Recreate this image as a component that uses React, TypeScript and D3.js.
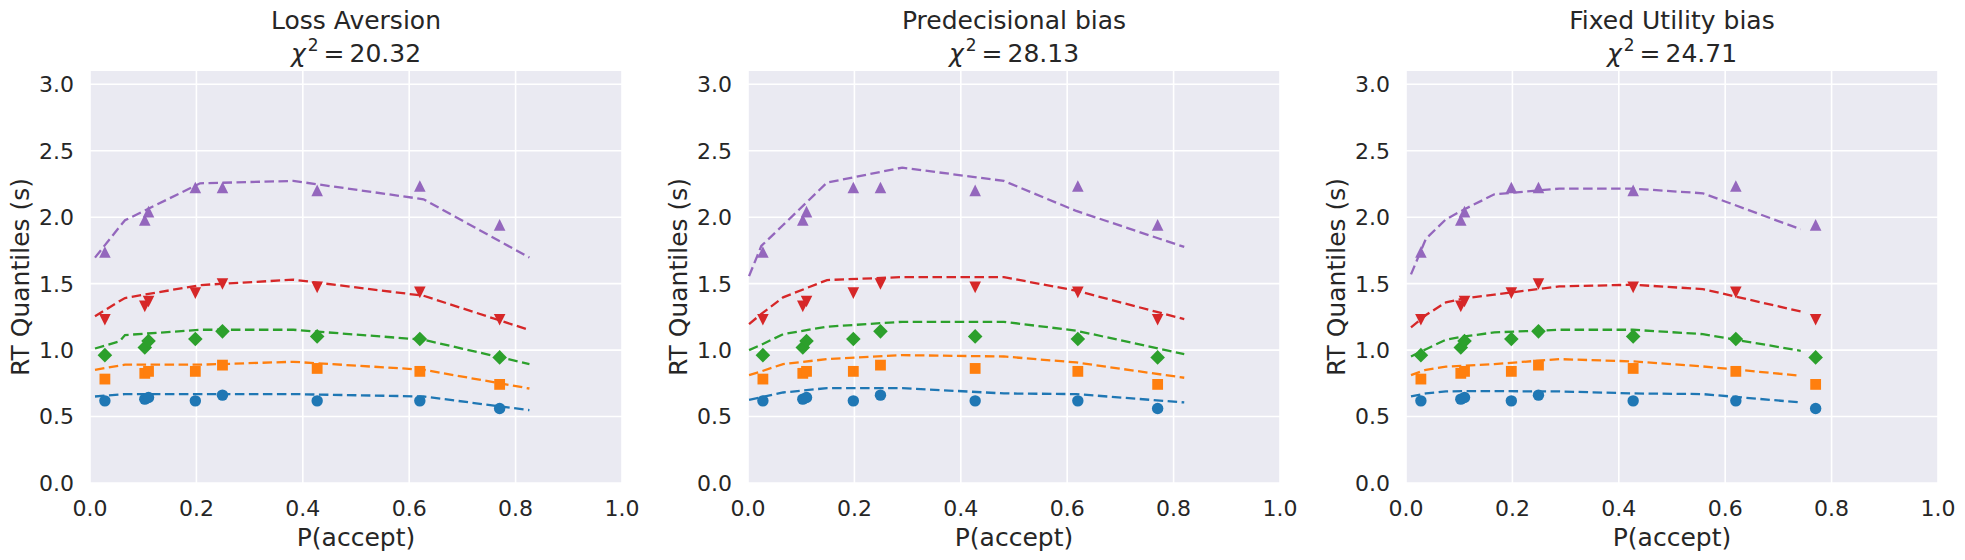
import React, { useEffect, useRef } from 'react';
import * as d3 from 'd3';

// observed data (same in every panel): P(accept) per condition and RT quantiles
const obsAccept = [0.028, 0.103, 0.110, 0.198, 0.249, 0.427, 0.620, 0.770];
const obsQ1 = [0.618, 0.631, 0.643, 0.618, 0.661, 0.618, 0.618, 0.560];
const obsQ3 = [0.782, 0.825, 0.840, 0.840, 0.887, 0.862, 0.840, 0.742];
const obsQ5 = [0.962, 1.020, 1.068, 1.083, 1.141, 1.103, 1.083, 0.945];
const obsQ7 = [1.228, 1.329, 1.366, 1.429, 1.497, 1.472, 1.434, 1.228];
const obsQ9 = [1.738, 1.979, 2.042, 2.223, 2.223, 2.202, 2.235, 1.942];

// model predictions, Loss Aversion
const laAccept = [0.0094, 0.056, 0.0658, 0.207, 0.382, 0.627, 0.826];
const laQ1 = [0.651, 0.666, 0.669, 0.669, 0.669, 0.651, 0.548];
const laQ3 = [0.852, 0.884, 0.890, 0.890, 0.912, 0.852, 0.711];
const laQ5 = [1.012, 1.067, 1.113, 1.153, 1.153, 1.078, 0.895];
const laQ7 = [1.254, 1.370, 1.392, 1.489, 1.530, 1.409, 1.151];
const laQ9 = [1.696, 1.930, 1.977, 2.255, 2.273, 2.135, 1.696];

// model predictions, Predecisional bias
const pdAccept = [0.002, 0.025, 0.066, 0.1485, 0.29, 0.481, 0.617, 0.82];
const pdQ1 = [0.626, 0.645, 0.681, 0.714, 0.714, 0.674, 0.669, 0.606];
const pdQ3 = [0.812, 0.840, 0.895, 0.932, 0.962, 0.952, 0.907, 0.792];
const pdQ5 = [1.000, 1.040, 1.120, 1.176, 1.213, 1.213, 1.146, 0.970];
const pdQ7 = [1.196, 1.272, 1.397, 1.527, 1.549, 1.549, 1.447, 1.233];
const pdQ9 = [1.557, 1.783, 1.941, 2.260, 2.373, 2.273, 2.047, 1.776];

// model predictions, Fixed Utility bias
const fuAccept = [0.0094, 0.0376, 0.075, 0.11, 0.166, 0.288, 0.426, 0.558, 0.742];
const fuQ1 = [0.651, 0.674, 0.689, 0.691, 0.691, 0.689, 0.674, 0.669, 0.606];
const fuQ3 = [0.812, 0.852, 0.875, 0.882, 0.895, 0.932, 0.915, 0.877, 0.807];
const fuQ5 = [0.952, 1.007, 1.078, 1.103, 1.133, 1.153, 1.153, 1.120, 0.995];
const fuQ7 = [1.171, 1.264, 1.359, 1.389, 1.417, 1.479, 1.492, 1.459, 1.291];
const fuQ9 = [1.570, 1.839, 1.984, 2.060, 2.172, 2.215, 2.215, 2.180, 1.909];

const modelNames = ['Loss Aversion', 'Predecisional bias', 'Fixed Utility bias'];
const chiSquares = ['20.32', '28.13', '24.71'];
const xTicks = [0, 0.2, 0.4, 0.6, 0.8, 1.0];
const yTicks = [0, 0.5, 1.0, 1.5, 2.0, 2.5, 3.0];

const colors = ['#1f77b4', '#ff7f0e', '#2ca02c', '#d62728', '#9467bd'];
const markers = ['circle', 'square', 'diamond', 'triangleDown', 'triangleUp'];

const panels = [
    { name: modelNames[0], chi: chiSquares[0], x: laAccept, q: [laQ1, laQ3, laQ5, laQ7, laQ9] },
    { name: modelNames[1], chi: chiSquares[1], x: pdAccept, q: [pdQ1, pdQ3, pdQ5, pdQ7, pdQ9] },
    { name: modelNames[2], chi: chiSquares[2], x: fuAccept, q: [fuQ1, fuQ3, fuQ5, fuQ7, fuQ9] },
];
const observed = [obsQ1, obsQ3, obsQ5, obsQ7, obsQ9];

const markerPath = (kind: string) => {
    switch (kind) {
        case 'circle':
            return d3.symbol(d3.symbolCircle, Math.PI * 5.7 * 5.7)() as string;
        case 'square':
            return 'M-5.4,-5.4H5.4V5.4H-5.4Z';
        case 'diamond':
            return 'M0,-7.3L7.3,0L0,7.3L-7.3,0Z';
        case 'triangleDown':
            return 'M0,5.8L-5.8,-5.8L5.8,-5.8Z';
        default:
            return 'M0,-5.8L-5.8,5.8L5.8,5.8Z';
    }
};

const W = 1965;
const H = 560;
const panelLeft = [90, 748, 1406];
const panelW = 532;
const top = 71;
const bottom = 483;
const font = 'DejaVu Sans, sans-serif';
const textColor = '#262626';

const App: React.FC = () => {
    const svgRef = useRef<SVGSVGElement | null>(null);

    useEffect(() => {
        if (!svgRef.current) return;
        const svg = d3.select(svgRef.current);
        svg.selectAll('*').remove();

        const x = d3.scaleLinear().domain([0, 1]).range([0, panelW]);
        const y = d3.scaleLinear().domain([0, 3.1]).range([bottom - top, 0]);

        panels.forEach((p, pi) => {
            const g = svg.append('g').attr('transform', `translate(${panelLeft[pi]},${top})`);

            g.append('rect')
                .attr('width', panelW)
                .attr('height', bottom - top)
                .attr('fill', '#eaeaf2');

            // grid
            g.selectAll('.gx')
                .data(xTicks)
                .enter()
                .append('line')
                .attr('x1', (d) => x(d))
                .attr('x2', (d) => x(d))
                .attr('y1', 0)
                .attr('y2', bottom - top)
                .attr('stroke', '#fff')
                .attr('stroke-width', 1.6);
            g.selectAll('.gy')
                .data(yTicks)
                .enter()
                .append('line')
                .attr('x1', 0)
                .attr('x2', panelW)
                .attr('y1', (d) => y(d))
                .attr('y2', (d) => y(d))
                .attr('stroke', '#fff')
                .attr('stroke-width', 1.6);

            // tick labels
            g.selectAll('.tx')
                .data(xTicks)
                .enter()
                .append('text')
                .attr('x', (d) => x(d))
                .attr('y', 516 - top)
                .attr('text-anchor', 'middle')
                .attr('font-family', font)
                .attr('font-size', 22)
                .attr('fill', textColor)
                .text((d) => d3.format('.1f')(d));
            g.selectAll('.ty')
                .data(yTicks)
                .enter()
                .append('text')
                .attr('x', -16)
                .attr('y', (d) => y(d))
                .attr('dy', '0.36em')
                .attr('text-anchor', 'end')
                .attr('font-family', font)
                .attr('font-size', 22)
                .attr('fill', textColor)
                .text((d) => d3.format('.1f')(d));

            // axis labels
            g.append('text')
                .attr('x', panelW / 2)
                .attr('y', 546 - top)
                .attr('text-anchor', 'middle')
                .attr('font-family', font)
                .attr('font-size', 25)
                .attr('fill', textColor)
                .text('P(accept)');
            g.append('text')
                .attr('transform', `translate(-61,${(bottom - top) / 2}) rotate(-90)`)
                .attr('text-anchor', 'middle')
                .attr('font-family', font)
                .attr('font-size', 25)
                .attr('fill', textColor)
                .text('RT Quantiles (s)');

            // title
            g.append('text')
                .attr('x', panelW / 2)
                .attr('y', 29 - top)
                .attr('text-anchor', 'middle')
                .attr('font-family', font)
                .attr('font-size', 25)
                .attr('fill', textColor)
                .text(p.name);
            const t2 = g.append('text')
                .attr('x', panelW / 2)
                .attr('y', 62 - top)
                .attr('text-anchor', 'middle')
                .attr('font-family', font)
                .attr('font-size', 25)
                .attr('fill', textColor);
            t2.append('tspan').attr('font-style', 'italic').text('χ');
            t2.append('tspan').attr('font-size', 17).attr('dy', -11).attr('dx', 2).text('2');
            t2.append('tspan').attr('dy', 11).text(`\u2009=\u2009${p.chi}`);

            // model lines
            p.q.forEach((vals, qi) => {
                const line = d3.line<number>()
                    .x((_, i) => x(p.x[i]))
                    .y((d) => y(d));
                g.append('path')
                    .datum(vals)
                    .attr('d', line)
                    .attr('fill', 'none')
                    .attr('stroke', colors[qi])
                    .attr('stroke-width', 2.3)
                    .attr('stroke-dasharray', '9.5,4.5');
            });

            // observed markers
            observed.forEach((vals, qi) => {
                g.selectAll(`.m${qi}`)
                    .data(vals)
                    .enter()
                    .append('path')
                    .attr('transform', (d, i) => `translate(${x(obsAccept[i])},${y(d)})`)
                    .attr('d', markerPath(markers[qi]))
                    .attr('fill', colors[qi]);
            });
        });
    }, []);

    return (
        <svg
            ref={svgRef}
            width={W}
            height={H}
            style={{ position: 'absolute', left: 0, top: 0, background: '#fff' }}
        ></svg>
    );
};

export default App;
